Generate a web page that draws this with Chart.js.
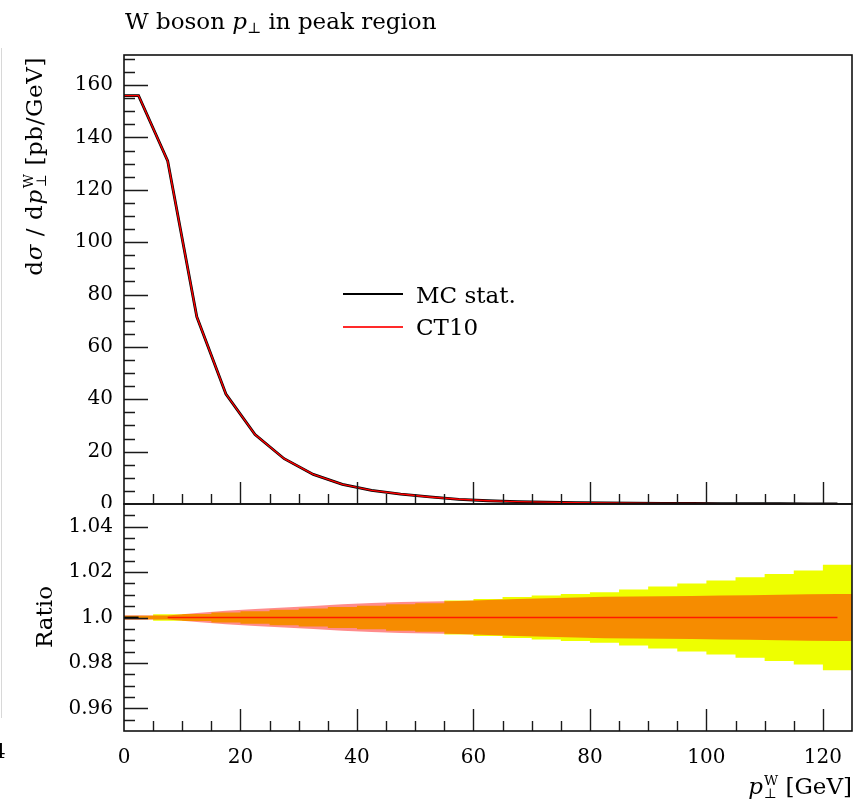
<!DOCTYPE html>
<html>
<head>
<meta charset="utf-8">
<script src="https://cdn.jsdelivr.net/npm/chart.js@4/dist/chart.umd.min.js"></script>
<style>
html,body{margin:0;padding:0;background:#fff;}
#wrap{position:relative;width:857px;height:801px;overflow:hidden;font-family:"DejaVu Serif",serif;color:#000;background:#fff;}
canvas{position:absolute;left:0;top:0;}
.t{position:absolute;white-space:nowrap;line-height:1;font-size:23px;}
.ss{display:inline-flex;flex-direction:column;font-size:0.6em;line-height:13px;vertical-align:9px;margin-left:1px;}
.sub{font-size:0.65em;vertical-align:-4px;}
.sw{position:absolute;height:2px;}
</style>
</head>
<body>
<div id="wrap">
  <canvas id="top" width="857" height="508"></canvas>
  <canvas id="bot" width="857" height="801"></canvas>
  <div class="t" style="left:125px;top:10px;">W boson <i>p</i><span class="sub">⊥</span> in peak region</div>
  <div class="t" style="left:22px;top:277px;width:220px;text-align:right;letter-spacing:0.6px;transform:rotate(-90deg);transform-origin:0 0;">d<i>σ</i> / d<i>p</i><span class="ss"><span>W</span><span>⊥</span></span> [pb/GeV]</div>
  <div class="t" style="left:33px;top:677px;width:120px;text-align:center;transform:rotate(-90deg);transform-origin:0 0;">Ratio</div>
  <div class="t" style="right:5px;top:774px;"><i>p</i><span class="ss"><span>W</span><span>⊥</span></span> [GeV]</div>
  <div class="sw" style="left:343px;top:293px;width:60px;background:#000;"></div>
  <div class="t" style="left:416px;top:284px;">MC stat.</div>
  <div class="sw" style="left:343px;top:326px;width:60px;background:#ff2a2a;"></div>
  <div class="t" style="left:416px;top:316px;">CT10</div>
  <div style="position:absolute;left:1px;top:48px;width:1px;height:670px;background:#d8d8d8;"></div>
  <div class="t" style="left:-7px;top:741px;font-size:20px;">4</div>
</div>
<script>
// ---- data ----
const binCenters = [2.5,7.5,12.5,17.5,22.5,27.5,32.5,37.5,42.5,47.5,52.5,57.5,62.5,67.5,72.5,77.5,82.5,87.5,92.5,97.5,102.5,107.5,112.5,117.5,122.5];
const binEdges   = [0,5,10,15,20,25,30,35,40,45,50,55,60,65,70,75,80,85,90,95,100,105,110,115,120,125];
const mcStat = [156,131,71.5,42,26.5,17.3,11.3,7.5,5.2,3.8,2.7,1.8,1.25,0.92,0.7,0.52,0.4,0.31,0.24,0.19,0.15,0.12,0.1,0.08,0.06];
const ct10   = [156,131,71.5,42,26.5,17.3,11.3,7.5,5.2,3.8,2.7,1.8,1.25,0.92,0.7,0.52,0.4,0.31,0.24,0.19,0.15,0.12,0.1,0.08,0.06];
const mcStatRatio = [1,1,1,1,1,1,1,1,1,1,1,1,1,1,1,1,1,1,1,1,1,1,1,1,1];
const ct10Ratio   = [1,1,1,1,1,1,1,1,1,1,1,1,1,1,1,1,1,1,1,1,1,1,1,1,1];
// relative half-widths of the two uncertainty bands in the ratio panel
const mcStatErr = [0.0010,0.0009,0.0020,0.0030,0.0037,0.0044,0.0051,0.0058,0.0064,0.0068,0.0071,0.0073,0.0077,0.0082,0.0085,0.0088,0.0091,0.0093,0.0094,0.0095,0.0097,0.0098,0.0100,0.0102,0.0103];
const ct10PdfErr = [0.0008,0.0014,0.0015,0.0022,0.0028,0.0034,0.0040,0.0046,0.0052,0.0058,0.0063,0.0075,0.0082,0.0090,0.0097,0.0104,0.0111,0.0123,0.0137,0.0150,0.0163,0.0177,0.0192,0.0207,0.0232];
// ticks
const xTicks = [0,20,40,60,80,100,120];
const upperYTicks = [0,20,40,60,80,100,120,140,160];
const ratioYTicks = [0.96,0.98,1.0,1.02,1.04];
const ratioYLabels = ['0.96','0.98','1.0','1.02','1.04'];

// ---- helpers building plotted points from the arrays ----
function linePts(xs, ys){ const p=[{x:0,y:ys[0]}]; xs.forEach((x,i)=>p.push({x:x,y:ys[i]})); return p; }
function bandPts(center, err, sign){
  const p=[{x:binEdges[0], y:center[0]+sign*err[0]}];
  binCenters.forEach((x,i)=>p.push({x:x,y:center[i]+sign*err[i]}));
  const n=binCenters.length-1;
  p.push({x:binEdges[binEdges.length-1], y:center[n]+sign*err[n]});
  return p;
}
function stepPts(center, err, sign){
  const p=binEdges.slice(0,-1).map((x,i)=>({x:x,y:center[i]+sign*err[i]}));
  const n=center.length-1;
  p.push({x:binEdges[binEdges.length-1], y:center[n]+sign*err[n]});
  return p;
}
function noPad(s){ s.paddingTop=0; s.paddingBottom=0; s.paddingLeft=0; s.paddingRight=0; }

const frameTicks = {
  id:'frameTicks',
  afterDatasetsDraw(chart, args, o){
    const {ctx, chartArea:a, scales} = chart;
    const xs=scales.x, ys=scales.y;
    ctx.save();
    ctx.strokeStyle='#1a1a1a';
    ctx.lineWidth=1.4;
    ctx.beginPath();
    const nx=Math.round((o.xMax-o.xMin)/o.xMinor);
    for(let i=0;i<=nx;i++){
      const v=o.xMin+i*o.xMinor;
      const major=Math.abs(v/o.xMajor-Math.round(v/o.xMajor))<1e-6;
      const px=Math.round(xs.getPixelForValue(v))+0.5;
      if(px<a.left+1||px>a.right-1) continue;
      ctx.moveTo(px,a.bottom); ctx.lineTo(px,a.bottom-(major?22:10));
    }
    const ny=Math.round((o.yMax-o.yMin)/o.yMinor);
    for(let i=0;i<=ny;i++){
      const v=o.yMin+i*o.yMinor;
      const major=Math.abs(v/o.yMajor-Math.round(v/o.yMajor))<1e-6;
      const py=Math.round(ys.getPixelForValue(v))+0.5;
      if(py<a.top+1||py>a.bottom-1) continue;
      ctx.moveTo(a.left,py); ctx.lineTo(a.left+(major?24:11),py);
    }
    ctx.stroke();
    ctx.lineWidth=1.6;
    ctx.strokeStyle='#111';
    ctx.strokeRect(a.left,a.top,a.right-a.left,a.bottom-a.top);
    ctx.restore();
  }
};

const tickFont = {family:'DejaVu Serif', size:20};

new Chart(document.getElementById('top'), {
  type:'line',
  data:{datasets:[
    {label:'CT10', data:linePts(binCenters, ct10), borderColor:'#ff0000', borderWidth:1.4, pointRadius:0, tension:0, order:1},
    {label:'MC stat.', data:linePts(binCenters, mcStat), borderColor:'#000000', borderWidth:2.8, pointRadius:0, tension:0, order:2}
  ]},
  options:{
    responsive:false, animation:false, devicePixelRatio:1,
    layout:{padding:{top:55,right:5,bottom:4,left:0}},
    plugins:{legend:{display:false}, tooltip:{enabled:false},
      frameTicks:{xMin:0,xMax:125,xMinor:5,xMajor:20,yMin:0,yMax:170,yMinor:5,yMajor:20}},
    scales:{
      x:{type:'linear', min:0, max:125, display:false},
      y:{type:'linear', min:0, max:171.5, grid:{display:false, drawTicks:false}, border:{display:false},
         ticks:{padding:11, color:'#000', font:tickFont},
         afterBuildTicks:s=>{s.ticks=upperYTicks.map(v=>({value:v}));},
         afterFit:s=>{s.width=124; noPad(s);}}
    }
  },
  plugins:[frameTicks]
});

new Chart(document.getElementById('bot'), {
  type:'line',
  data:{datasets:[
    {label:'CT10 up', data:stepPts(ct10Ratio, ct10PdfErr, 1), stepped:true, borderWidth:0, borderColor:'rgba(0,0,0,0)', pointRadius:0, fill:false, order:10},
    {label:'CT10 down', data:stepPts(ct10Ratio, ct10PdfErr, -1), stepped:true, borderWidth:0, borderColor:'rgba(0,0,0,0)', pointRadius:0, fill:'-1', backgroundColor:'#eeff00', order:10},
    {label:'MC up', data:bandPts(mcStatRatio, mcStatErr, 1), borderWidth:0, borderColor:'rgba(0,0,0,0)', pointRadius:0, tension:0, fill:false, order:8},
    {label:'MC down', data:bandPts(mcStatRatio, mcStatErr, -1), borderWidth:0, borderColor:'rgba(0,0,0,0)', pointRadius:0, tension:0, fill:'-1', backgroundColor:'rgba(255,0,0,0.45)', order:8},
    {label:'MC stat.', data:linePts(binCenters.slice(0,1), mcStatRatio.slice(0,1)), borderColor:'#000', borderWidth:1.8, pointRadius:0, tension:0, order:2},
    {label:'CT10', data:binCenters.slice(1).map((x,i)=>({x:x,y:ct10Ratio[i+1]})), borderColor:'#ff1a00', borderWidth:1.6, pointRadius:0, tension:0, order:1}
  ]},
  options:{
    responsive:false, animation:false, devicePixelRatio:1,
    layout:{padding:{top:504,right:5,bottom:0,left:0}},
    plugins:{legend:{display:false}, tooltip:{enabled:false},
      frameTicks:{xMin:0,xMax:125,xMinor:5,xMajor:20,yMin:0.95,yMax:1.05,yMinor:0.005,yMajor:0.02}},
    scales:{
      x:{type:'linear', min:0, max:125, grid:{display:false, drawTicks:false}, border:{display:false},
         ticks:{padding:15, color:'#000', font:tickFont, maxRotation:0, autoSkip:false},
         afterBuildTicks:s=>{s.ticks=xTicks.map(v=>({value:v}));},
         afterFit:s=>{s.height=70; noPad(s);}},
      y:{type:'linear', min:0.95, max:1.05, grid:{display:false, drawTicks:false}, border:{display:false},
         ticks:{padding:11, color:'#000', font:tickFont, callback:(v,i)=>ratioYLabels[i]},
         afterBuildTicks:s=>{s.ticks=ratioYTicks.map(v=>({value:v}));},
         afterFit:s=>{s.width=124; noPad(s);}}
    }
  },
  plugins:[frameTicks]
});
</script>
</body>
</html>
